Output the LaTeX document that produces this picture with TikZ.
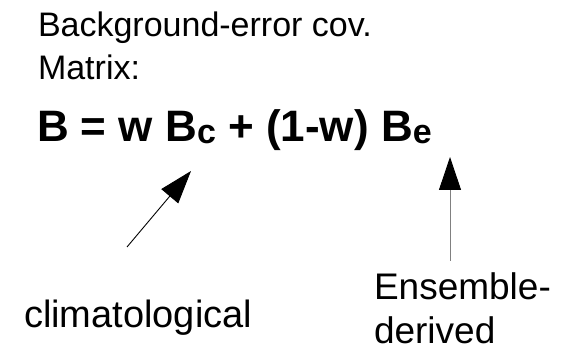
\documentclass[tikz,border=0pt]{standalone}
\usepackage{fontspec}
\setmainfont{Liberation Sans}
\usetikzlibrary{arrows.meta}
\tikzset{
  txt/.style={inner sep=0pt, outer sep=0pt, anchor=base west, align=left},
  pointer/.style={line width=0.9pt, -{Triangle[length=33pt,width=22pt,color=black]}},
}
\newcommand{\subtxt}[1]{\raisebox{-2pt}{\fontsize{34}{34}\selectfont #1}}
\begin{document}
\begin{tikzpicture}[x=1pt,y=-1pt]
  \useasboundingbox (0,0) rectangle (564,344);
  % heading
  \node[txt, font=\fontsize{34}{43}\selectfont] (head1) at (38,37) {Background-error cov.};
  \node[txt, font=\fontsize{34}{43}\selectfont] (head2) at (38,80) {Matrix:};
  % formula
  \node[txt, font=\fontsize{44}{44}\selectfont\bfseries] (eq) at (37,142)
    {B = w B\subtxt{c} + (1-w) B\subtxt{e}};
  % labels
  \node[txt, font=\fontsize{38}{44}\selectfont] (clim) at (24,327) {climatological};
  \node[txt, font=\fontsize{37}{44}\selectfont] (ens1) at (374,299) {Ensemble-};
  \node[txt, font=\fontsize{37}{44}\selectfont] (ens2) at (374,343) {derived};
  % arrow ends
  \coordinate (climtail) at (127,247);
  \coordinate (climtip) at (191,171);
  \coordinate (enstail) at (450,261);
  \coordinate (enstip) at (450,157);
  \draw[pointer] (climtail) -- (climtip);
  \draw[pointer, draw=gray] (enstail) -- (enstip);
\end{tikzpicture}
\end{document}
